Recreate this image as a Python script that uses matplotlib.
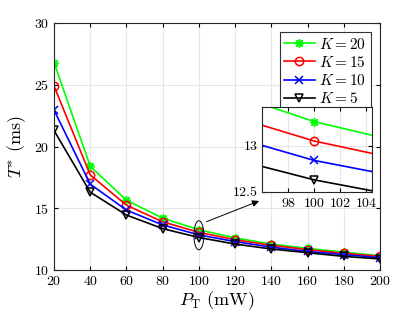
import numpy as np
import matplotlib
matplotlib.use("Agg")
import matplotlib.pyplot as plt
from matplotlib.patches import Ellipse
from matplotlib.ticker import FormatStrFormatter

plt.rcParams['font.family'] = 'serif'
plt.rcParams['font.serif'] = ['cmr10']
plt.rcParams['mathtext.fontset'] = 'cm'
plt.rcParams['axes.formatter.use_mathtext'] = True

p_t = [20, 40, 60, 80, 100, 120, 140, 160, 180, 200]
t_k20 = [26.8, 18.4, 15.65, 14.2, 13.26, 12.6, 12.1, 11.75, 11.45, 11.15]
t_k15 = [24.9, 17.7, 15.25, 13.9, 13.05, 12.45, 12.0, 11.65, 11.35, 11.1]
t_k10 = [22.95, 16.95, 14.85, 13.65, 12.84, 12.3, 11.85, 11.5, 11.25, 11.0]
t_k5 = [21.3, 16.3, 14.45, 13.35, 12.63, 12.1, 11.7, 11.4, 11.1, 10.9]

# (data, colour, marker, fill, label)
series = [
    (t_k20, '#00ff00', (8, 2, 0), 'full', r'$K=20$'),
    (t_k15, 'red', 'o', 'none', r'$K=15$'),
    (t_k10, 'blue', 'x', 'full', r'$K=10$'),
    (t_k5, 'black', 'v', 'none', r'$K=5$'),
]

fig = plt.figure(figsize=(4.2, 3.15), dpi=100)
ax = fig.add_axes([0.1286, 0.1429, 0.776, 0.784])

for y, c, m, fs, lab in series:
    ax.plot(p_t, y, color=c, marker=m, fillstyle=fs, markersize=6,
            markeredgewidth=1.1, linewidth=1.2, label=lab)

ax.set_xlim(20, 200)
ax.set_ylim(10, 30)
ax.set_xticks(np.arange(20, 201, 20))
ax.set_yticks([10, 15, 20, 25, 30])
ax.grid(True, color='#e6e6e6', linewidth=0.8)
ax.tick_params(direction='in', top=True, right=True, labelsize=10, length=3)
for s in ax.spines.values():
    s.set_linewidth(0.8)
    s.set_color('#262626')
ax.set_xlabel(r'$P_\mathrm{T}$ (mW)', fontsize=13, labelpad=1)
ax.set_ylabel(r'$T^{*}$ (ms)', fontsize=13, labelpad=4)

leg = ax.legend(loc='upper right', fontsize=11, fancybox=False,
                edgecolor='#333333', framealpha=1, handlelength=2.0,
                borderpad=0.3, labelspacing=0.2, handletextpad=0.3,
                borderaxespad=0.6)
leg.get_frame().set_linewidth(0.8)

# zoom marker and arrow
ax.add_patch(Ellipse((100, 12.81), 5.5, 2.35, fill=False, edgecolor='black',
                     linewidth=0.7, zorder=5))
ax.annotate('', xy=(134.7, 15.67), xytext=(102.8, 13.83),
            arrowprops=dict(arrowstyle='-|>', color='black', lw=0.7,
                            mutation_scale=10))

# inset
ins = fig.add_axes([0.6245, 0.391, 0.262, 0.27])
for y, c, m, fs, lab in series:
    ins.plot(p_t, y, color=c, marker=m, fillstyle=fs, markersize=6,
             markeredgewidth=1.1, linewidth=1.2)
ins.set_xlim(96, 104.5)
ins.set_ylim(12.5, 13.42)
ins.set_xticks([98, 100, 102, 104])
ins.set_yticks([12.5, 13])
ins.yaxis.set_major_formatter(FormatStrFormatter('%g'))
ins.grid(True, color='#e6e6e6', linewidth=0.8)
ins.tick_params(direction='in', top=True, right=True, labelsize=10, length=3)
for s in ins.spines.values():
    s.set_linewidth(0.8)
    s.set_color('#262626')

fig.savefig('out.png', dpi=100)
